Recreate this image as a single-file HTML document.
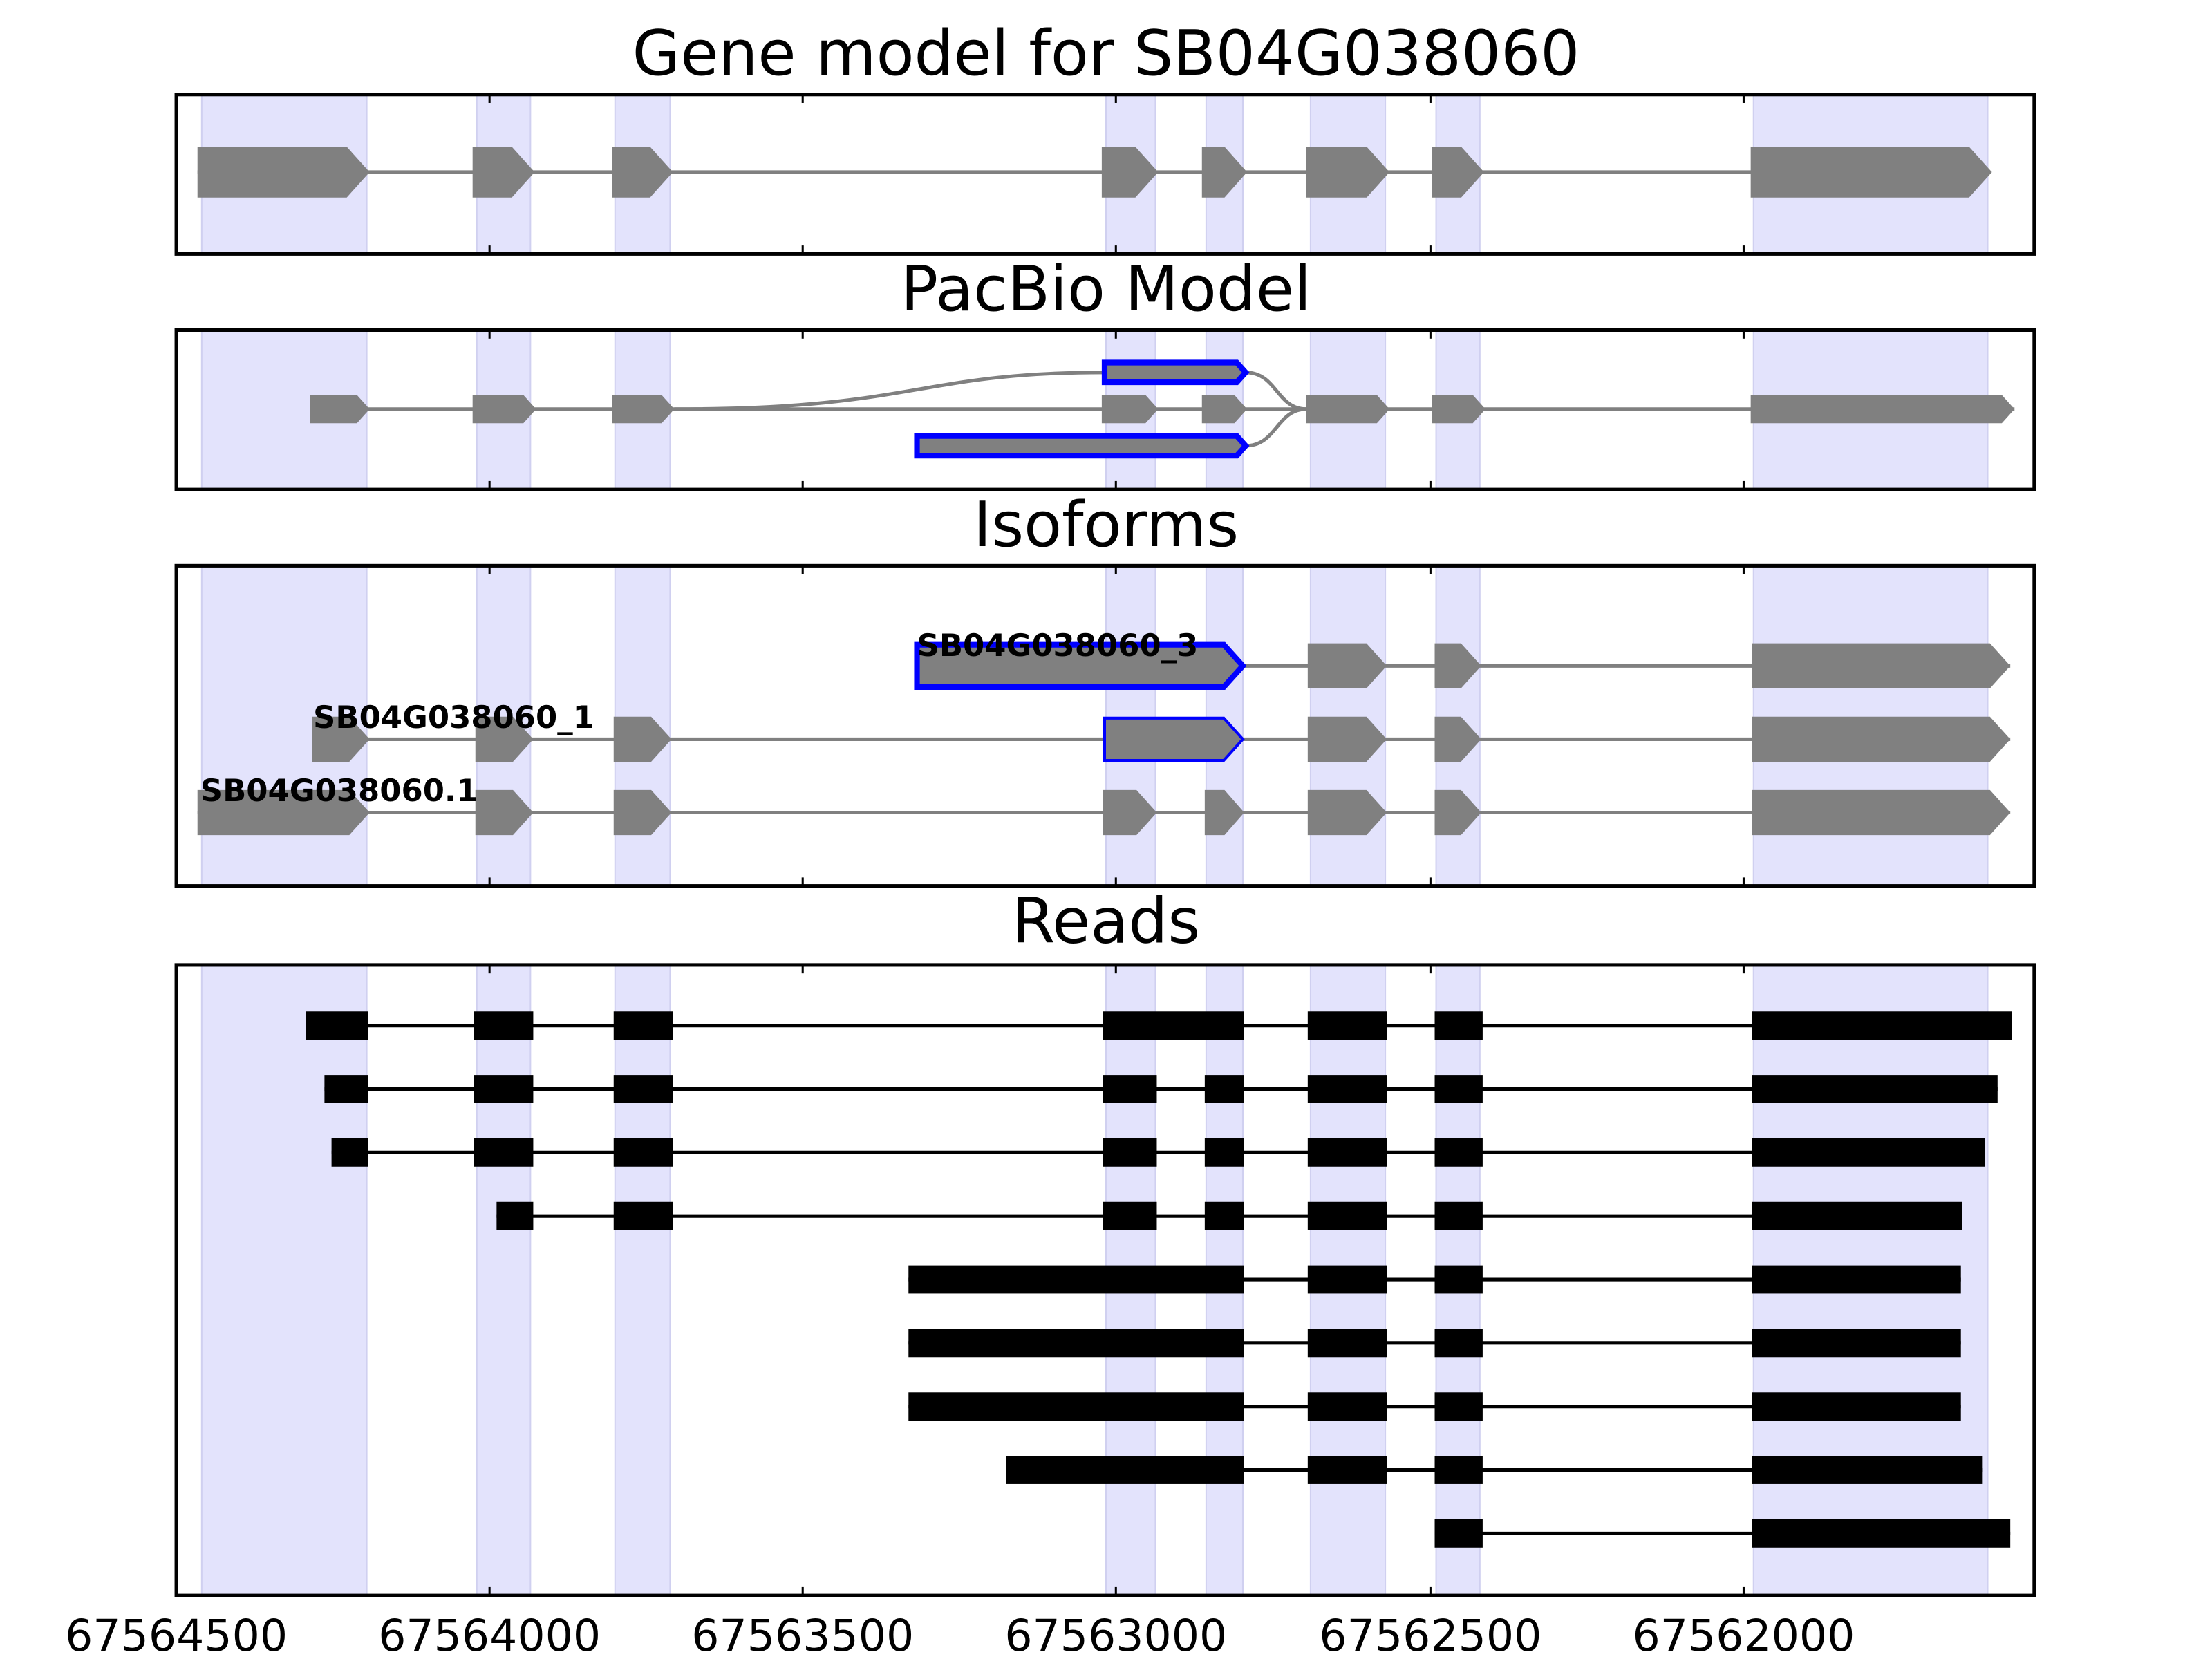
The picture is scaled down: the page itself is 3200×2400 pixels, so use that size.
<!DOCTYPE html>
<html><head><meta charset="utf-8"><style>html,body{margin:0;padding:0;background:#fff;width:3200px;height:2400px;overflow:hidden}svg{display:block}</style>
<script>
document.addEventListener("DOMContentLoaded",function(){
var NS="http://www.w3.org/2000/svg";
function arrow(g,x1,x2,cy,h,fill,stroke,sw){
  var t=Math.min(h*0.45,(x2-x1)*0.5);
  var p=document.createElementNS(NS,"polygon");
  p.setAttribute("points",x1+","+(cy-h/2)+" "+(x2-t)+","+(cy-h/2)+" "+x2+","+cy+" "+(x2-t)+","+(cy+h/2)+" "+x1+","+(cy+h/2));
  p.setAttribute("fill",fill);
  if(stroke){p.setAttribute("stroke",stroke);p.setAttribute("stroke-width",sw);}
  g.appendChild(p);
}
var g1=document.getElementById("p1");
[[140,262],[335,379],[434,477],[781,821],[852,884],[926,985],[1015,1052],[1241,1412]].forEach(function(e){arrow(g1,e[0],e[1],122,36,"#808080");});
var g2=document.getElementById("p2");
[[220,262],[335,380],[434,478],[781,821],[852,884],[926,985],[1015,1053],[1241,1428]].forEach(function(e){arrow(g2,e[0],e[1],290,20,"#808080");});
arrow(g2,783,883,264,14,"#808080","#0000ff",4);
arrow(g2,650,883,316,14,"#808080","#0000ff",4);
var g3=document.getElementById("p3");
arrow(g3,650,881,472,30,"#808080","#0000ff",4);
[[927,983],[1017,1050],[1242,1425]].forEach(function(e){arrow(g3,e[0],e[1],472,32,"#808080");});
[[221,262],[337,378],[435,476],[927,983],[1017,1050],[1242,1425]].forEach(function(e){arrow(g3,e[0],e[1],524,32,"#808080");});
arrow(g3,783,881,524,30,"#808080","#0000ff",2);
[[140,262],[337,378],[435,476],[782,820],[854,882],[927,983],[1017,1050],[1242,1425]].forEach(function(e){arrow(g3,e[0],e[1],576,32,"#808080");});
var g4=document.getElementById("p4");
var tail=[[927,983],[1017,1051]];
var rows=[
 [[217,261],[336,378],[435,477],[782,882]].concat(tail,[[1242,1426]]),
 [[230,261],[336,378],[435,477],[782,820],[854,882]].concat(tail,[[1242,1416]]),
 [[235,261],[336,378],[435,477],[782,820],[854,882]].concat(tail,[[1242,1407]]),
 [[352,378],[435,477],[782,820],[854,882]].concat(tail,[[1242,1391]]),
 [[644,882]].concat(tail,[[1242,1390]]),
 [[644,882]].concat(tail,[[1242,1390]]),
 [[644,882]].concat(tail,[[1242,1390]]),
 [[713,882]].concat(tail,[[1242,1405]]),
 [[1017,1051],[1242,1425]]
];
rows.forEach(function(r,i){
  var cy=727+45*i;
  var l=document.createElementNS(NS,"line");
  l.setAttribute("x1",r[0][0]);l.setAttribute("x2",r[r.length-1][1]);
  l.setAttribute("y1",cy);l.setAttribute("y2",cy);
  l.setAttribute("stroke","#000");l.setAttribute("stroke-width","2.5");
  g4.appendChild(l);
  r.forEach(function(e){
    var rc=document.createElementNS(NS,"rect");
    rc.setAttribute("x",e[0]);rc.setAttribute("y",cy-10);
    rc.setAttribute("width",e[1]-e[0]);rc.setAttribute("height",20);
    rc.setAttribute("fill","#000");g4.appendChild(rc);
  });
});
var gt=document.getElementById("ticks");
var panels=[[67,180],[234,347],[401,628],[684,1131]];
[125,347,569,791,1014,1236].forEach(function(x){
  panels.forEach(function(p){
    [[p[0],p[0]+6],[p[1],p[1]-6]].forEach(function(s){
      var l=document.createElementNS(NS,"line");
      l.setAttribute("x1",x);l.setAttribute("x2",x);
      l.setAttribute("y1",s[0]);l.setAttribute("y2",s[1]);
      gt.appendChild(l);
    });
  });
});
});
</script>
</head>
<body><svg width="3200" height="2400" viewBox="0 0 1568 1176" xmlns="http://www.w3.org/2000/svg" font-family="DejaVu Sans, sans-serif">
<defs>
<g id="bands">
<rect x="143" width="117" height="2000" fill="#e3e3fc" stroke="#d0d0f0"/>
<rect x="338" width="38" height="2000" fill="#e3e3fc" stroke="#d0d0f0"/>
<rect x="436" width="39" height="2000" fill="#e3e3fc" stroke="#d0d0f0"/>
<rect x="784" width="35" height="2000" fill="#e3e3fc" stroke="#d0d0f0"/>
<rect x="855" width="26" height="2000" fill="#e3e3fc" stroke="#d0d0f0"/>
<rect x="929" width="53" height="2000" fill="#e3e3fc" stroke="#d0d0f0"/>
<rect x="1018" width="31" height="2000" fill="#e3e3fc" stroke="#d0d0f0"/>
<rect x="1243" width="166" height="2000" fill="#e3e3fc" stroke="#d0d0f0"/>
</g>
<clipPath id="c1"><rect x="125" y="67" width="1317" height="113"/></clipPath>
<clipPath id="c2"><rect x="125" y="234" width="1317" height="113"/></clipPath>
<clipPath id="c3"><rect x="125" y="401" width="1317" height="227"/></clipPath>
<clipPath id="c4"><rect x="125" y="684" width="1317" height="447"/></clipPath>
</defs>
<g fill="#000" font-size="44" text-anchor="middle">
<text x="784" y="53">Gene model for SB04G038060</text>
<text x="784" y="220">PacBio Model</text>
<text x="784" y="387">Isoforms</text>
<text x="784" y="668">Reads</text>
</g>
<use href="#bands" clip-path="url(#c1)"/>
<use href="#bands" clip-path="url(#c2)"/>
<use href="#bands" clip-path="url(#c3)"/>
<use href="#bands" clip-path="url(#c4)"/>
<line x1="140" y1="122" x2="1410" y2="122" stroke="#808080" stroke-width="2.5"/>
<g fill="#808080" id="p1"></g>
<line x1="220" y1="290" x2="1428" y2="290" stroke="#808080" stroke-width="2.5"/>
<g fill="none" stroke="#808080" stroke-width="2.5">
<path d="M478,290 C650,290 650,264 783,264"/>
<path d="M883,264 C905,264 905,290 926,290"/>
<path d="M883,316 C905,316 905,290 926,290"/>
</g>
<g fill="#808080" id="p2"></g>
<g stroke="#808080" stroke-width="2.5">
<line x1="881" y1="472" x2="1425" y2="472"/>
<line x1="221" y1="524" x2="1425" y2="524"/>
<line x1="140" y1="576" x2="1425" y2="576"/>
</g>
<g fill="#808080" id="p3"></g>
<g font-size="22" font-weight="bold" fill="#000">
<text x="650" y="465">SB04G038060_3</text>
<text x="222" y="516">SB04G038060_1</text>
<text x="142" y="568">SB04G038060.1</text>
</g>
<g id="p4"></g>
<g fill="none" stroke="#000" stroke-width="2.5">
<rect x="125" y="67" width="1317" height="113"/>
<rect x="125" y="234" width="1317" height="113"/>
<rect x="125" y="401" width="1317" height="227"/>
<rect x="125" y="684" width="1317" height="447"/>
</g>
<g id="ticks" stroke="#000" stroke-width="1.5"></g>
<g font-size="31" text-anchor="middle" fill="#000">
<text x="125" y="1170">67564500</text>
<text x="347" y="1170">67564000</text>
<text x="569" y="1170">67563500</text>
<text x="791" y="1170">67563000</text>
<text x="1014" y="1170">67562500</text>
<text x="1236" y="1170">67562000</text>
</g>
</svg></body></html>
